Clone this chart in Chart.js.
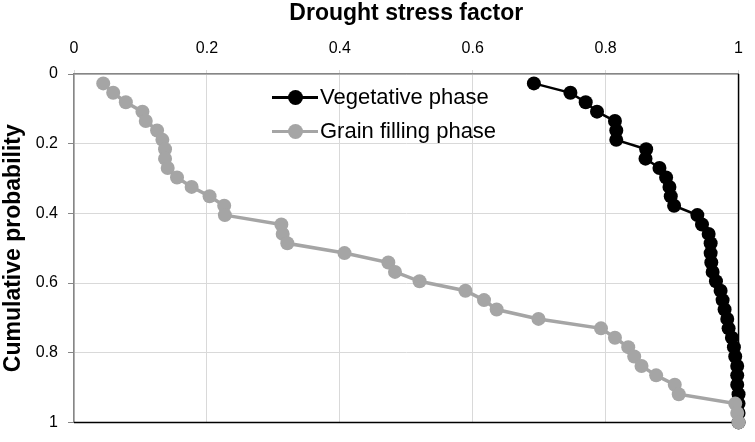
<!DOCTYPE html>
<html lang="en">
<head>
  <meta charset="UTF-8">
  <title>Drought stress factor</title>
  <script src="https://cdn.jsdelivr.net/npm/chart.js@4"></script>
  <style>
    body { margin: 0; background: #fff; }
    .wrap { position: relative; width: 755px; height: 442px; }
    .legend { position: absolute; left: 272px; top: 80px; font-family: "Liberation Sans", Arial, sans-serif; font-size: 22px; color: #000; }
    .legend .item { display: flex; align-items: center; height: 34px; }
    .legend .key { position: relative; width: 46px; height: 16px; margin-right: 2px; }
    .legend .key .ln { position: absolute; left: 0; right: 0; top: 7px; height: 3px; }
    .legend .key .dot { position: absolute; left: 16px; top: 1px; width: 15px; height: 15px; border-radius: 50%; }
  </style>
</head>
<body>
  <div class="wrap">
    <canvas id="chart" width="755" height="442"></canvas>
    <div class="legend" id="legend"></div>
  </div>

  <script>
    // cumulative probability of each ranked year (same for both phases)
    const cumProb = [
      0.027, 0.054, 0.081, 0.108, 0.135, 0.162, 0.189, 0.216, 0.243, 0.270,
      0.297, 0.324, 0.351, 0.378, 0.405, 0.432, 0.459, 0.486, 0.514, 0.541,
      0.568, 0.595, 0.622, 0.649, 0.676, 0.703, 0.730, 0.757, 0.784, 0.811,
      0.838, 0.865, 0.892, 0.919, 0.946, 0.973, 1.000
    ];

    // drought stress factor, sorted
    const vegetative = [
      0.692, 0.747, 0.770, 0.787, 0.814, 0.816, 0.816, 0.861, 0.860, 0.881,
      0.891, 0.896, 0.898, 0.903, 0.938, 0.945, 0.955, 0.958, 0.958, 0.959,
      0.961, 0.966, 0.973, 0.976, 0.979, 0.983, 0.985, 0.990, 0.993, 0.995,
      0.998, 0.998, 0.998, 1.000, 1.000, 1.000, 1.000
    ];
    const grainFilling = [
      0.044, 0.059, 0.078, 0.103, 0.108, 0.125, 0.133, 0.137, 0.137, 0.141,
      0.155, 0.177, 0.204, 0.226, 0.227, 0.312, 0.314, 0.321, 0.407, 0.473,
      0.483, 0.520, 0.589, 0.617, 0.636, 0.699, 0.793, 0.814, 0.834, 0.843,
      0.854, 0.876, 0.904, 0.910, 0.995, 0.998, 1.000
    ];

    const seriesNames = ['Vegetative phase', 'Grain filling phase'];
    const seriesColors = ['#000000', '#a5a5a5'];
    const xTicks = [0, 0.2, 0.4, 0.6, 0.8, 1];
    const yTicks = [0, 0.2, 0.4, 0.6, 0.8, 1];

    const toPoints = vals => vals.map((v, i) => ({ x: v, y: cumProb[i] }));

    // right + bottom frame of the plot area are black in the original
    const frame = {
      id: 'frame',
      beforeDatasetsDraw(chart) {
        const a = chart.chartArea, c = chart.ctx;
        c.save();
        c.strokeStyle = '#000';
        c.lineWidth = 1.5;
        c.beginPath();
        c.moveTo(a.right, a.top);
        c.lineTo(a.right, a.bottom);
        c.lineTo(a.left, a.bottom);
        c.stroke();
        c.restore();
      }
    };

    const font = { family: '"Liberation Sans", Arial, sans-serif', size: 16 };
    const titleFont = { family: '"Liberation Sans", Arial, sans-serif', size: 23, weight: 'bold' };

    new Chart(document.getElementById('chart'), {
      type: 'scatter',
      data: {
        datasets: [
          {
            label: seriesNames[0],
            data: toPoints(vegetative),
            showLine: true,
            borderColor: seriesColors[0],
            backgroundColor: seriesColors[0],
            borderWidth: 2.5,
            pointRadius: 7,
            pointHoverRadius: 7,
            pointBorderWidth: 0,
            clip: false,
            order: 1
          },
          {
            label: seriesNames[1],
            data: toPoints(grainFilling),
            showLine: true,
            borderColor: seriesColors[1],
            backgroundColor: seriesColors[1],
            borderWidth: 3.5,
            pointRadius: 7,
            pointHoverRadius: 7,
            pointBorderWidth: 0,
            clip: false,
            order: 0
          }
        ]
      },
      options: {
        responsive: false,
        animation: false,
        layout: { autoPadding: false, padding: { right: 10, bottom: 11, top: 0, left: 0 } },
        plugins: { legend: { display: false }, tooltip: { enabled: false } },
        scales: {
          x: {
            position: 'top',
            min: 0, max: 1,
            afterBuildTicks: s => { s.ticks = xTicks.map(v => ({ value: v })); },
            afterFit: s => { s.height = 74; },
            ticks: { font, color: '#000', padding: 12, callback: v => String(v) },
            grid: { color: '#d9d9d9', tickColor: '#d9d9d9', tickLength: 4 },
            border: { color: '#868686', width: 1.5 },
            title: { display: true, text: 'Drought stress factor', font: titleFont, color: '#000', padding: { top: 0, bottom: 2 } }
          },
          y: {
            reverse: true,
            min: 0, max: 1,
            afterBuildTicks: s => { s.ticks = yTicks.map(v => ({ value: v })); },
            afterFit: s => { s.width = 74; },
            ticks: { font, color: '#000', padding: 10, callback: v => String(v) },
            grid: { color: '#d9d9d9', tickColor: '#868686', tickLength: 6 },
            border: { color: '#868686', width: 1.5 },
            title: { display: true, text: 'Cumulative probability', font: titleFont, color: '#000', padding: { top: 0, bottom: 0 } }
          }
        }
      },
      plugins: [frame]
    });

    // legend drawn as line + marker like the original
    const legend = document.getElementById('legend');
    seriesNames.forEach((name, i) => {
      const row = document.createElement('div');
      row.className = 'item';
      row.innerHTML = `<span class="key"><span class="ln" style="background:${seriesColors[i]}"></span>` +
        `<span class="dot" style="background:${seriesColors[i]}"></span></span><span>${name}</span>`;
      legend.appendChild(row);
    });
  </script>
</body>
</html>
